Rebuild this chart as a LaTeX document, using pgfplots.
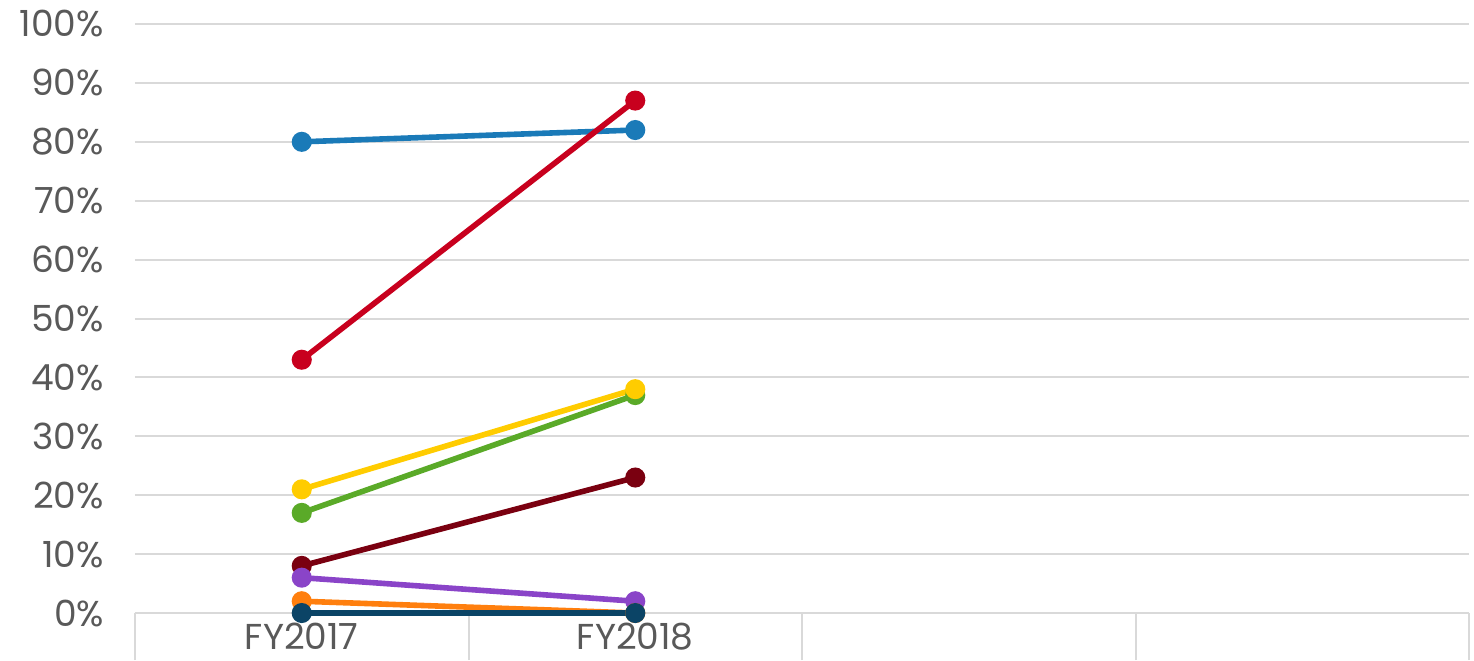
\documentclass[border=0pt]{standalone}
\usepackage{fontspec}
\setmainfont{Poppins}
\usepackage{pgfplots}
\pgfplotsset{compat=1.18}
\definecolor{txt}{HTML}{595959}
\definecolor{grd}{HTML}{D9D9D9}
\definecolor{cblue}{HTML}{1A7AB8}
\definecolor{cred}{HTML}{C8001E}
\definecolor{cyel}{HTML}{FFCC00}
\definecolor{cgrn}{HTML}{5AAA28}
\definecolor{cdred}{HTML}{7A0010}
\definecolor{cpur}{HTML}{8A44C8}
\definecolor{corg}{HTML}{FF7F0E}
\definecolor{cnavy}{HTML}{0B4466}
\begin{document}
\begin{tikzpicture}
\begin{axis}[
  scale only axis, width=667pt, height=294.5pt,
  xmin=-0.5, xmax=3.5, ymin=0, ymax=100,
  axis line style={draw=none},
  ytick={0,10,...,100},
  ymajorgrids, grid style={grd, line width=1pt},
  major tick length=0pt,
  xtick pos=bottom, ytick pos=left,
  xtick={0,1,2,3},
  xticklabels={FY2017,FY2018,{},{}},
  extra x ticks={-0.5,0.5,1.5,2.5,3.5},
  extra x tick labels={},
  extra x tick style={major tick length=23.5pt, tick align=outside, xtick pos=bottom, tick style={grd, line width=1pt}},
  /pgf/number format/assume math mode=true,
  yticklabel={\pgfmathprintnumber{\tick}\%},
  tick label style={font=\fontsize{18}{20}\selectfont, text=txt},
  yticklabel style={xshift=-12pt},
  xticklabel style={yshift=-1.5pt},
  clip=false,
  every axis plot/.append style={line width=2.8pt, mark=*, mark size=3.6pt},
]
\addplot[cblue, mark options={fill=cblue}] coordinates {(0,80) (1,82)};
\addplot[cred, mark options={fill=cred}] coordinates {(0,43) (1,87)};
\addplot[cgrn, mark options={fill=cgrn}] coordinates {(0,17) (1,37)};
\addplot[cyel, mark options={fill=cyel}] coordinates {(0,21) (1,38)};
\addplot[cdred, mark options={fill=cdred}] coordinates {(0,8) (1,23)};
\addplot[cpur, mark options={fill=cpur}] coordinates {(0,6) (1,2)};
\addplot[corg, mark options={fill=corg}] coordinates {(0,2) (1,0)};
\addplot[cnavy, mark options={fill=cnavy}] coordinates {(0,0) (1,0)};
\end{axis}
\pgfresetboundingbox
\path ([xshift=-67.5pt,yshift=-23.5pt]current axis.south west) rectangle ([xshift=2.5pt,yshift=12pt]current axis.north east);
\end{tikzpicture}
\end{document}
